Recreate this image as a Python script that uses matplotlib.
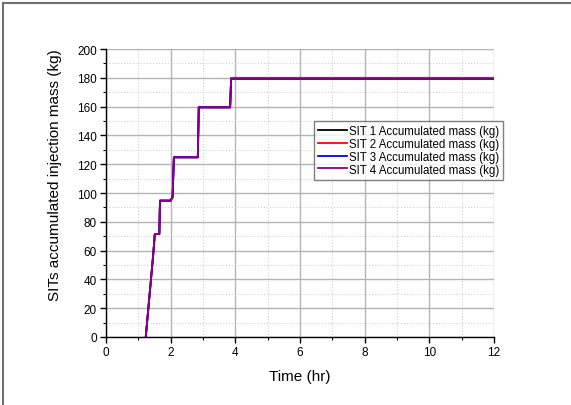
import matplotlib
matplotlib.use("Agg")
import matplotlib.pyplot as plt
from matplotlib.lines import Line2D
from matplotlib.ticker import MultipleLocator

plt.rcParams['font.family'] = ['Liberation Sans', 'DejaVu Sans']

# injection history of the four safety injection tanks
time_hr = [1.23, 1.46, 1.51, 1.65, 1.67, 2.00, 2.04, 2.06, 2.10, 2.84, 2.87, 3.84, 3.87, 12.0]
sit1_mass = [0, 57, 71.5, 71.5, 94.7, 94.7, 96.5, 97, 124.8, 124.8, 159.5, 159.5, 179.2, 179.2]
sit2_mass = [0, 57, 71.5, 71.5, 94.7, 94.7, 96.5, 97, 124.8, 124.8, 159.5, 159.5, 180.0, 180.0]
sit3_mass = [0, 57, 71.5, 71.5, 94.7, 94.7, 96.5, 97, 124.8, 124.8, 159.5, 159.5, 179.2, 179.2]
sit4_mass = [0, 57, 71.5, 71.5, 94.7, 94.7, 96.5, 97, 124.8, 124.8, 159.5, 159.5, 179.2, 179.2]

labels = ["SIT 1 Accumulated mass (kg)", "SIT 2 Accumulated mass (kg)",
          "SIT 3 Accumulated mass (kg)", "SIT 4 Accumulated mass (kg)"]
colors = ["black", "red", "blue", "#8b008b"]

fig = plt.figure(figsize=(5.71, 4.06), dpi=100)
ax = fig.add_axes([0.1856, 0.1675, 0.6795, 0.7093])

for mass, lab, col in zip([sit1_mass, sit2_mass, sit3_mass, sit4_mass], labels, colors):
    ax.plot(time_hr, mass, color=col, lw=1.3, label=lab)

ax.set_xlim(0, 12)
ax.set_ylim(0, 200)
ax.xaxis.set_major_locator(MultipleLocator(2))
ax.xaxis.set_minor_locator(MultipleLocator(1))
ax.yaxis.set_major_locator(MultipleLocator(20))
ax.yaxis.set_minor_locator(MultipleLocator(10))

ax.grid(which='major', color='#b4b4b4', lw=1.0, ls='-')
ax.grid(which='minor', color='#c8c8c8', lw=0.7, ls=(0, (1, 2)))
ax.set_axisbelow(True)
for tick in ax.yaxis.get_major_ticks():
    if tick.get_loc() >= 200:
        tick.gridline.set_visible(False)

ax.spines['top'].set_visible(False)
ax.spines['right'].set_visible(False)
for s in ['left', 'bottom']:
    ax.spines[s].set_linewidth(1.0)
ax.tick_params(which='major', direction='out', length=4, width=1.0, labelsize=8.5, pad=2.5)
ax.tick_params(which='minor', direction='out', length=2.5, width=0.8)

ax.set_xlabel("Time (hr)", fontsize=11, labelpad=8)
ax.set_ylabel("SITs accumulated injection mass (kg)", fontsize=11)
ax.yaxis.set_label_coords(-0.114, 0.566)

leg = ax.legend(loc='upper left', bbox_to_anchor=(0.536, 0.751), fontsize=8.3,
                frameon=True, fancybox=False, handlelength=2.5, handletextpad=0.2,
                borderpad=0.35, labelspacing=0.08, borderaxespad=0)
leg.get_frame().set_edgecolor('#606060')
leg.get_frame().set_linewidth(1.0)

# outer frame lines
fig.add_artist(Line2D([0.0053, 1.0], [0.990, 0.990], color='#707070', lw=1.5))
fig.add_artist(Line2D([0.0053, 0.0053], [0.0, 0.990], color='#707070', lw=1.5))

fig.savefig("out.png", dpi=100)
